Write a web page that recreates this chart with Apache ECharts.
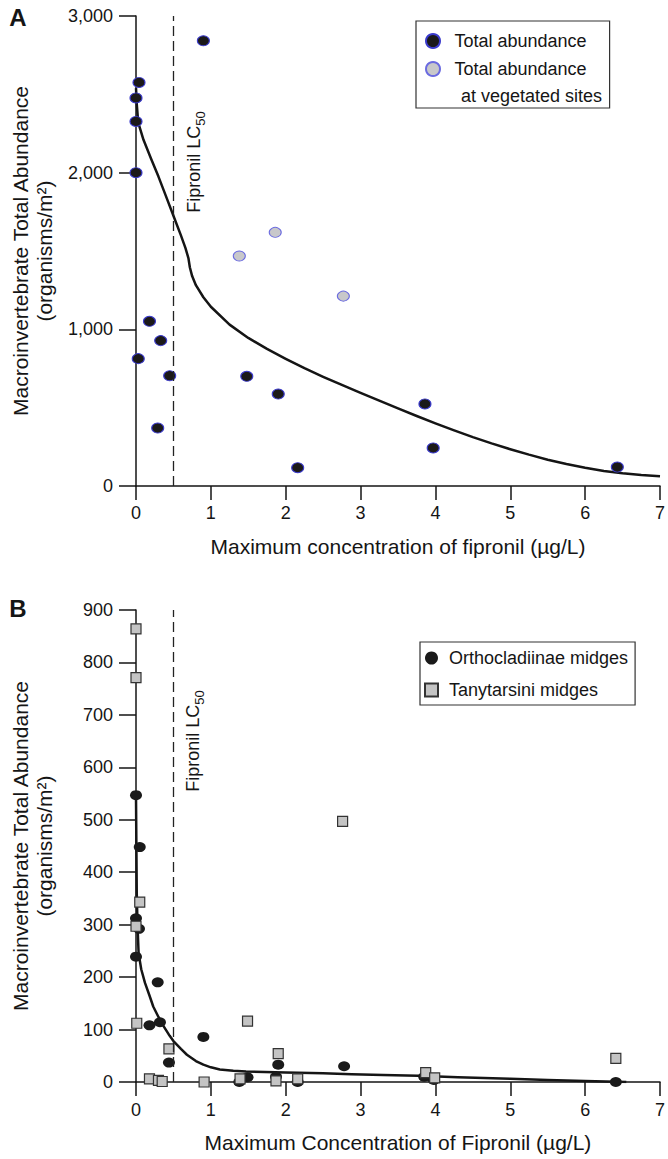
<!DOCTYPE html>
<html><head><meta charset="utf-8">
<script src="https://cdn.jsdelivr.net/npm/echarts@6/dist/echarts.min.js"></script>
<style>html,body{margin:0;padding:0;background:#fff}#c{width:668px;height:1159px}</style>
</head><body><div id="c"></div>
<script>
// ---- Panel A data ----
const aTotalX = [0, 0, 0, 0.04, 0.90, 0.03, 0.18, 0.33, 0.45, 0.29, 1.48, 1.90, 2.16, 3.86, 3.97, 6.43];
const aTotalY = [2477, 2327, 2000, 2576, 2842, 813, 1051, 928, 704, 370, 700, 587, 117, 524, 243, 121];
const aVegX = [1.38, 1.86, 2.77];
const aVegY = [1468, 1619, 1212];
const aCurveX = [0, 0.01, 0.03, 0.1, 0.2, 0.3, 0.4, 0.5, 0.6, 0.66, 0.7, 0.72, 0.75, 0.8, 0.9, 1.0, 1.25, 1.5, 1.75, 2.0, 2.25, 2.5, 2.75, 3.0, 3.25, 3.5, 3.75, 4.0, 4.25, 4.5, 4.75, 5.0, 5.25, 5.5, 5.75, 6.0, 6.25, 6.5, 6.75, 7.0];
const aCurveY = [2540, 2440, 2320, 2210, 2090, 1975, 1850, 1725, 1600, 1520, 1455, 1395, 1340, 1282, 1205, 1144, 1030, 945, 875, 812, 752, 697, 645, 595, 545, 495, 447, 400, 355, 312, 272, 235, 200, 168, 140, 116, 96, 81, 70, 62];
const aYTicks = [0, 1000, 2000, 3000];
// ---- Panel B data ----
const bOrthoX = [0, 0.05, 0, 0.04, 0, 0.29, 0.18, 0.32, 0.90, 0.44, 1.90, 1.49, 1.38, 1.87, 2.16, 2.78, 3.85, 3.98, 6.41];
const bOrthoY = [547, 448, 312, 292, 239, 190, 108, 114, 86, 37, 33, 9, 0, 10, 0, 30, 10, 4, 0];
const bTanyX = [0, 0, 0.05, 0, 0.01, 1.49, 0.44, 1.90, 0.18, 0.30, 0.35, 0.91, 1.39, 1.87, 2.16, 2.76, 3.87, 3.99, 6.41];
const bTanyY = [864, 771, 343, 297, 112, 116, 63, 54, 6, 3, 1, 0, 6, 2, 6, 497, 18, 8, 45];
const bCurveX = [0, 0.005, 0.01, 0.02, 0.035, 0.07, 0.12, 0.18, 0.23, 0.3, 0.37, 0.45, 0.5, 0.6, 0.68, 0.8, 0.9, 1.0, 1.12, 1.3, 1.47, 2.0, 2.5, 2.88, 3.3, 3.77, 4.3, 5.0, 5.5, 6.0, 6.55];
const bCurveY = [545, 450, 360, 300, 245, 215, 189, 165, 144, 124, 106, 88, 78, 63, 52, 40, 33, 28, 24, 21.5, 20, 18, 16.5, 15, 13.5, 12, 9, 6, 4, 2, 0];
const lc50 = 0.5;

const FONT = '"Liberation Sans", Arial, Helvetica, sans-serif';
const INK = '#151515';
function pairs(xs, ys) { return xs.map((x, i) => [x, ys[i]]); }

function xAxisCfg(grid, name, margin) {
  return {
    gridIndex: grid, type: 'value', min: 0, max: 7, interval: 1,
    axisLine: { show: true, onZero: false, lineStyle: { color: INK, width: 1.5 } },
    axisTick: { show: true, length: 14, lineStyle: { color: INK, width: 1.5 } },
    axisLabel: { fontSize: 18, color: INK, fontFamily: FONT, margin: margin },
    splitLine: { show: false },
    name: name, nameLocation: 'middle', nameGap: 50,
    nameTextStyle: { fontSize: 21, color: INK, fontFamily: FONT }
  };
}
function yAxisCfg(grid, max, interval, fmt) {
  return {
    gridIndex: grid, type: 'value', min: 0, max: max, interval: interval,
    axisLine: { show: true, lineStyle: { color: INK, width: 1.5 } },
    axisTick: { show: true, length: 17, lineStyle: { color: INK, width: 1.5 } },
    axisLabel: { fontSize: 18, color: INK, fontFamily: FONT, margin: 23, formatter: fmt },
    splitLine: { show: false },
    name: 'Macroinvertebrate Total Abundance\n(organisms/m²)',
    nameLocation: 'middle', nameGap: 80, nameRotate: 90,
    nameTextStyle: { fontSize: 21, lineHeight: 24, color: INK, fontFamily: FONT, align: 'center' }
  };
}
const dashMark = {
  silent: true, symbol: ['none', 'none'], label: { show: false },
  lineStyle: { type: [10, 5], color: '#222', width: 1.3 },
  data: [{ xAxis: lc50 }]
};

const option = {
  animation: false,
  backgroundColor: '#fff',
  textStyle: { fontFamily: FONT },
  grid: [
    { left: 136, right: 6, top: 16, bottom: 673 },
    { left: 136, right: 4, top: 610, bottom: 77 }
  ],
  xAxis: [
    xAxisCfg(0, 'Maximum concentration of fipronil (µg/L)', 18),
    xAxisCfg(1, 'Maximum Concentration of Fipronil (µg/L)', 19)
  ],
  yAxis: [
    yAxisCfg(0, 3000, 1000, v => v.toLocaleString('en-US')),
    yAxisCfg(1, 900, 100, v => String(v))
  ],
  legend: [
    {
      orient: 'vertical', left: 416, top: 21,
      data: ['Total abundance', 'Total abundance at vegetated sites'],
      formatter: () => 'Total abundance',
      itemWidth: 15, itemHeight: 14, itemGap: 8,
      padding: [10, 23, 29, 9],
      borderColor: '#333', borderWidth: 1.2,
      textStyle: { fontSize: 18, lineHeight: 20, color: INK, fontFamily: FONT, padding: [0, 0, 0, 9] }
    },
    {
      orient: 'vertical', left: 420, top: 642,
      data: ['Orthocladiinae midges', 'Tanytarsini midges'],
      itemWidth: 13, itemHeight: 13, itemGap: 12,
      padding: [6, 7, 5, 4],
      borderColor: '#333', borderWidth: 1.2,
      textStyle: { fontSize: 18, lineHeight: 20, color: INK, fontFamily: FONT, padding: [0, 0, 0, 6] }
    }
  ],
  series: [
    {
      name: 'fitA', type: 'line', xAxisIndex: 0, yAxisIndex: 0,
      data: pairs(aCurveX, aCurveY), symbol: 'none', smooth: false,
      lineStyle: { color: INK, width: 2.5, join: 'round' }, markLine: dashMark, z: 2
    },
    {
      name: 'Total abundance', type: 'scatter', xAxisIndex: 0, yAxisIndex: 0,
      data: pairs(aTotalX, aTotalY), symbol: 'circle', symbolSize: [12, 10],
      itemStyle: { color: '#1b1919', borderColor: '#3b3bcc', borderWidth: 1, opacity: 1 }, z: 3
    },
    {
      name: 'Total abundance at vegetated sites', type: 'scatter', xAxisIndex: 0, yAxisIndex: 0,
      data: pairs(aVegX, aVegY), symbol: 'circle', symbolSize: [12, 10],
      itemStyle: { color: '#c8c8ca', borderColor: '#6b6be0', borderWidth: 1, opacity: 1 }, z: 3
    },
    {
      name: 'fitB', type: 'line', xAxisIndex: 1, yAxisIndex: 1,
      data: pairs(bCurveX, bCurveY), symbol: 'none', smooth: false,
      lineStyle: { color: INK, width: 2.5, join: 'round' }, markLine: dashMark, z: 2
    },
    {
      name: 'Orthocladiinae midges', type: 'scatter', xAxisIndex: 1, yAxisIndex: 1,
      data: pairs(bOrthoX, bOrthoY), symbol: 'circle', symbolSize: [12, 10],
      itemStyle: { color: '#1a1a1a', opacity: 1 }, z: 3
    },
    {
      name: 'Tanytarsini midges', type: 'scatter', xAxisIndex: 1, yAxisIndex: 1,
      data: pairs(bTanyX, bTanyY), symbol: 'rect', symbolSize: 10,
      itemStyle: { color: '#c4c4c4', borderColor: '#333', borderWidth: 1.2, opacity: 1 }, z: 4
    }
  ],
  graphic: [
    { type: 'text', x: 18, y: 17, style: { text: 'A', font: 'bold 24px ' + FONT, fill: INK, textAlign: 'center', textVerticalAlign: 'middle' } },
    { type: 'text', x: 18, y: 608, style: { text: 'B', font: 'bold 24px ' + FONT, fill: INK, textAlign: 'center', textVerticalAlign: 'middle' } },
    { type: 'text', x: 461, y: 96, style: { text: 'at vegetated sites', font: '18px ' + FONT, fill: INK, textAlign: 'left', textVerticalAlign: 'middle' } },
    {
      type: 'text', x: 194, y: 162, rotation: Math.PI / 2,
      style: { text: 'Fipronil LC{s|50}', font: '18px ' + FONT, fill: INK, textAlign: 'center', textVerticalAlign: 'middle',
        rich: { s: { fontSize: 13, fontFamily: FONT, fill: INK, padding: [12, 0, 0, 0] } } }
    },
    {
      type: 'text', x: 193, y: 741, rotation: Math.PI / 2,
      style: { text: 'Fipronil LC{s|50}', font: '18px ' + FONT, fill: INK, textAlign: 'center', textVerticalAlign: 'middle',
        rich: { s: { fontSize: 13, fontFamily: FONT, fill: INK, padding: [12, 0, 0, 0] } } }
    }
  ]
};
const chart = echarts.init(document.getElementById('c'), null, { renderer: 'svg' });
chart.setOption(option);
</script>
</body></html>
